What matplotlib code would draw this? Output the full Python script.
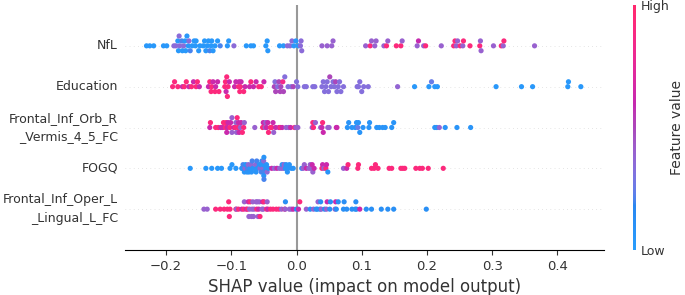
import numpy as np
import matplotlib
matplotlib.use("Agg")
import matplotlib.pyplot as plt
from matplotlib.colors import LinearSegmentedColormap

# ---------------- data ----------------
features = ["NfL", "Education", "Frontal_Inf_Orb_R\n_Vermis_4_5_FC", "FOGQ",
            "Frontal_Inf_Oper_L\n_Lingual_L_FC"]
x_ticks = [-0.2, -0.1, 0.0, 0.1, 0.2, 0.3, 0.4]

nfl_shap = [-0.230, -0.225, -0.219, -0.204, -0.199,
            -0.188, -0.185, -0.182, -0.181, -0.180, -0.179, -0.176, -0.175, -0.173, -0.171,
            -0.170, -0.168, -0.166, -0.165, -0.163, -0.160, -0.157, -0.155, -0.154, -0.150,
            -0.148, -0.143, -0.141, -0.139, -0.137, -0.135, -0.133, -0.131, -0.130, -0.128,
            -0.125, -0.121, -0.117,
            -0.106, -0.104, -0.096, -0.077, -0.070, -0.066, -0.047, -0.045, -0.044, -0.026,
            -0.020, -0.014, -0.010, -0.007, -0.004, -0.001, 0.003, 0.006, 0.007, 0.008,
            0.039, 0.047, 0.054, 0.056, 0.106, 0.113, 0.115, 0.120, 0.122, 0.134,
            0.138, 0.140, 0.153, 0.160, 0.162, 0.185, 0.187, 0.195, 0.198, 0.222,
            0.241, 0.243, 0.245, 0.247, 0.251, 0.255, 0.256, 0.266, 0.281, 0.282,
            0.283, 0.302, 0.314, 0.317, 0.318, 0.365]
nfl_feat = [0.05, 0.05, 0.05, 0.05, 0.05,
            0.35, 0.35, 0.05, 0.05, 0.35, 0.35, 0.2, 0.05, 0.35, 0.05,
            0.05, 0.05, 0.05, 0.35, 0.2, 0.05, 0.05, 0.05, 0.05, 0.05,
            0.05, 0.05, 0.05, 0.05, 0.05, 0.05, 0.2, 0.05, 0.05, 0.05,
            0.05, 0.05, 0.2,
            0.05, 0.05, 0.35, 0.05, 0.05, 0.05, 0.05, 0.05, 0.05, 0.05,
            0.05, 0.35, 0.35, 0.35, 0.05, 0.05, 0.05, 0.35, 0.35, 0.35,
            0.4, 0.4, 0.4, 0.4, 0.4, 0.92, 0.4, 0.4, 0.4, 0.4,
            0.92, 0.4, 0.92, 0.92, 0.4, 0.4, 0.6, 0.4, 0.92, 0.4,
            0.92, 0.92, 0.4, 0.4, 0.92, 0.4, 0.92, 0.92, 0.92, 0.4,
            0.4, 0.4, 0.92, 0.4, 0.92, 0.4]

edu_shap = [-0.190, -0.187, -0.182, -0.175, -0.172, -0.169, -0.165, -0.161, -0.158, -0.154, -0.152, -0.149,
            -0.135, -0.133, -0.131, -0.130, -0.128, -0.125, -0.124, -0.121, -0.119,
            -0.110, -0.109, -0.108, -0.107, -0.106, -0.105, -0.103,
            -0.095, -0.093, -0.089, -0.088, -0.087, -0.086, -0.085, -0.081, -0.079,
            -0.072, -0.070, -0.066, -0.062, -0.058, -0.054, -0.050,
            -0.034, -0.033, -0.032, -0.029, -0.027, -0.025, -0.024, -0.021, -0.020, -0.018,
            -0.013, -0.008, -0.005, 0.000, 0.002,
            0.012, 0.015, 0.025, 0.028, 0.039, 0.041, 0.043, 0.045, 0.047, 0.049,
            0.051, 0.053, 0.056, 0.058, 0.060, 0.062, 0.064, 0.066, 0.068, 0.072,
            0.093, 0.095, 0.097, 0.100, 0.103, 0.110,
            0.155, 0.181, 0.203, 0.207, 0.212, 0.216, 0.306, 0.345, 0.362, 0.416, 0.417, 0.436]
edu_feat = [0.92, 0.92, 0.92, 0.62, 0.92, 0.92, 0.62, 0.92, 0.62, 0.92, 0.92, 0.62,
            0.62, 0.92, 0.92, 0.92, 0.62, 0.92, 0.62, 0.62, 0.92,
            0.92, 0.92, 0.62, 0.92, 0.92, 0.92, 0.62,
            0.62, 0.62, 0.92, 0.62, 0.92, 0.92, 0.62, 0.92, 0.62,
            0.62, 0.92, 0.62, 0.62, 0.92, 0.92, 0.62,
            0.5, 0.33, 0.5, 0.33, 0.5, 0.5, 0.5, 0.85, 0.5, 0.33,
            0.33, 0.33, 0.5, 0.33, 0.33,
            0.33, 0.33, 0.33, 0.33, 0.33, 0.33, 0.33, 0.33, 0.33, 0.33,
            0.5, 0.33, 0.33, 0.33, 0.5, 0.33, 0.33, 0.33, 0.33, 0.33,
            0.33, 0.33, 0.33, 0.33, 0.33, 0.33,
            0.38, 0.05, 0.05, 0.25, 0.05, 0.05, 0.05, 0.05, 0.05, 0.05, 0.05, 0.05]

orb_shap = [-0.133, -0.132, -0.124, -0.120, -0.116, -0.113, -0.112,
            -0.109, -0.108, -0.107, -0.106, -0.105, -0.102, -0.101, -0.099, -0.099, -0.096,
            -0.094, -0.093, -0.092, -0.091, -0.090, -0.089, -0.088, -0.086, -0.085, -0.083,
            -0.081, -0.080,
            -0.064,
            -0.052, -0.051, -0.048, -0.047, -0.046, -0.044, -0.043, -0.040, -0.038, -0.036,
            -0.035, -0.032, -0.027, -0.025, -0.022, -0.016, -0.012, -0.009, -0.003, -0.001, 0.002,
            0.024, 0.025, 0.026, 0.029, 0.037, 0.039, 0.040, 0.041, 0.048, 0.050, 0.061, 0.062,
            0.078, 0.080, 0.085, 0.090, 0.092, 0.094, 0.095, 0.097, 0.102, 0.111, 0.112,
            0.123, 0.127, 0.132, 0.136, 0.146, 0.149,
            0.212, 0.215, 0.219, 0.228, 0.246, 0.267]
orb_feat = [0.62, 0.92, 0.92, 0.92, 0.62, 0.62, 0.92,
            0.92, 0.92, 0.62, 0.62, 0.62, 0.92, 0.62, 0.4, 0.4, 0.62,
            0.92, 0.4, 0.4, 0.92, 0.92, 0.62, 0.62, 0.4, 0.62, 0.92,
            0.92, 0.4,
            0.4,
            0.92, 0.62, 0.4, 0.4, 0.62, 0.62, 0.92, 0.92, 0.92, 0.62,
            0.4, 0.62, 0.62, 0.92, 0.62, 0.4, 0.4, 0.62, 0.92, 0.4, 0.4,
            0.4, 0.92, 0.92, 0.4, 0.4, 0.62, 0.92, 0.62, 0.4, 0.4, 0.62, 0.62,
            0.08, 0.08, 0.08, 0.08, 0.08, 0.25, 0.08, 0.08, 0.08, 0.08, 0.08,
            0.08, 0.08, 0.08, 0.08, 0.08, 0.08,
            0.08, 0.08, 0.38, 0.08, 0.08, 0.08]

fogq_shap = [-0.163, -0.139, -0.130, -0.121, -0.115, -0.102, -0.099, -0.093,
             -0.084, -0.083, -0.082, -0.080, -0.079, -0.078, -0.076, -0.075, -0.074, -0.073,
             -0.071, -0.070, -0.069, -0.068, -0.067, -0.064, -0.063, -0.062, -0.061, -0.060,
             -0.057, -0.056, -0.055, -0.054, -0.053, -0.0510, -0.0508, -0.0506, -0.0504,
             -0.0502, -0.0500, -0.0499, -0.047, -0.046, -0.045, -0.043,
             -0.038, -0.034, -0.030, -0.026, -0.023, -0.022, -0.020, -0.019, -0.017, -0.016,
             -0.014, -0.013, -0.011, -0.008, -0.005,
             0.008, 0.010, 0.012, 0.015, 0.019, 0.021, 0.022, 0.024, 0.025, 0.027,
             0.039, 0.040, 0.042, 0.045, 0.046, 0.048,
             0.072, 0.077, 0.079, 0.094, 0.095, 0.115, 0.119, 0.121, 0.125,
             0.142, 0.146, 0.160, 0.163, 0.166, 0.183, 0.189, 0.193, 0.202, 0.225]
fogq_feat = [0.05, 0.05, 0.05, 0.05, 0.05, 0.05, 0.05, 0.05,
             0.08, 0.08, 0.2, 0.08, 0.36, 0.08, 0.08, 0.2, 0.36, 0.08,
             0.08, 0.36, 0.08, 0.2, 0.08, 0.08, 0.36, 0.08, 0.2, 0.08,
             0.08, 0.36, 0.08, 0.2, 0.08, 0.36, 0.08, 0.2, 0.36,
             0.08, 0.08, 0.2, 0.08, 0.08, 0.36, 0.08,
             0.62, 0.38, 0.62, 0.38, 0.38, 0.08, 0.38, 0.38, 0.08, 0.08,
             0.08, 0.08, 0.08, 0.08, 0.08,
             0.08, 0.4, 0.4, 0.62, 0.4, 0.4, 0.4, 0.62, 0.4, 0.62,
             0.92, 0.62, 0.4, 0.92, 0.62, 0.08,
             0.4, 0.62, 0.92, 0.92, 0.92, 0.92, 0.92, 0.92, 0.92,
             0.92, 0.92, 0.92, 0.92, 0.92, 0.92, 0.92, 0.92, 0.92, 0.92]

oper_shap = [-0.142, -0.137,
             -0.124, -0.117, -0.111, -0.106, -0.104, -0.103, -0.102, -0.093, -0.092, -0.089,
             -0.084, -0.081, -0.080, -0.077, -0.075, -0.074, -0.073, -0.072, -0.071, -0.069,
             -0.068, -0.067, -0.066, -0.065, -0.062, -0.061, -0.060, -0.059, -0.058, -0.057,
             -0.056, -0.053, -0.052, -0.051, -0.050, -0.046, -0.045, -0.044, -0.040, -0.036,
             -0.031, -0.027, -0.023, -0.018, -0.0175, -0.017, -0.011, -0.008, -0.005, 0.000, 0.003, 0.005,
             0.015, 0.021, 0.026, 0.030, 0.032, 0.033, 0.036, 0.037, 0.038, 0.043,
             0.046, 0.047, 0.051, 0.052, 0.059, 0.060, 0.061, 0.064, 0.072, 0.073,
             0.077, 0.085, 0.090, 0.091, 0.092, 0.097,
             0.107, 0.115, 0.130, 0.140, 0.149, 0.199]
oper_feat = [0.4, 0.4,
             0.92, 0.92, 0.92, 0.92, 0.92, 0.92, 0.92, 0.92, 0.4, 0.92,
             0.62, 0.92, 0.4, 0.62, 0.92, 0.62, 0.4, 0.4, 0.92, 0.4,
             0.4, 0.4, 0.4, 0.4, 0.4, 0.92, 0.4, 0.4, 0.62, 0.4,
             0.92, 0.4, 0.62, 0.4, 0.92, 0.92, 0.4, 0.62, 0.92, 0.92,
             0.92, 0.92, 0.4, 0.92, 0.4, 0.12, 0.4, 0.4, 0.62, 0.12, 0.62, 0.92,
             0.4, 0.12, 0.4, 0.12, 0.12, 0.4, 0.12, 0.12, 0.4, 0.12,
             0.4, 0.62, 0.12, 0.12, 0.4, 0.62, 0.12, 0.12, 0.12, 0.12,
             0.12, 0.12, 0.12, 0.12, 0.12, 0.62,
             0.12, 0.12, 0.12, 0.12, 0.12, 0.12]

rows_shap = [nfl_shap, edu_shap, orb_shap, fogq_shap, oper_shap]
rows_feat = [nfl_feat, edu_feat, orb_feat, fogq_feat, oper_feat]
for s_, f_ in zip(rows_shap, rows_feat):
    assert len(s_) == len(f_), (len(s_), len(f_))


# ---------------- SHAP red_blue colormap (Lch interpolation) ----------------
def lch_to_rgb(l, c, h):
    a = c * np.cos(h)
    b = c * np.sin(h)
    fy = (l + 16.0) / 116.0
    fx = a / 500.0 + fy
    fz = max(fy - b / 200.0, 0.0)

    def finv(t):
        return t ** 3 if t > 0.2068966 else (t - 16.0 / 116.0) / 7.787

    xyz = np.array([finv(fx) * 0.95047, finv(fy) * 1.0, finv(fz) * 1.08883])
    m = np.array([[3.24048134, -1.53715152, -0.49853633],
                  [-0.96925495, 1.87599, 0.04155593],
                  [0.05564664, -0.20404134, 1.05731107]])
    rgb = m @ xyz
    rgb = np.where(rgb > 0.0031308,
                   1.055 * np.power(np.clip(rgb, 1e-12, None), 1 / 2.4) - 0.055,
                   12.92 * rgb)
    return np.clip(rgb, 0, 1)


blue_lch = [54.0, 70.0, 4.6588]
red_lch = [54.0, 90.0, 0.35470565 + 2 * np.pi]
l_mid = 40.0
nsteps = 100
l_vals = list(np.linspace(blue_lch[0], l_mid, nsteps // 2)) + list(np.linspace(l_mid, red_lch[0], nsteps // 2))
c_vals = np.linspace(blue_lch[1], red_lch[1], nsteps)
h_vals = np.linspace(blue_lch[2], red_lch[2], nsteps)
wash = 0.16  # the reference rendering looks slightly washed out
stops = [(p, (1 - wash) * lch_to_rgb(l, c, h) + wash) for p, l, c, h in
         zip(np.linspace(0, 1, nsteps), l_vals, c_vals, h_vals)]
red_blue = LinearSegmentedColormap.from_list("red_blue", stops)


def beeswarm_offsets(vals, row_height=0.4, nbins=100):
    vals = np.asarray(vals, dtype=float)
    quant = np.round(nbins * (vals - vals.min()) / (vals.max() - vals.min() + 1e-8))
    inds = np.argsort(quant, kind="stable")
    layer = 0
    last_bin = -1
    ys = np.zeros(len(vals))
    for ind in inds:
        if quant[ind] != last_bin:
            layer = 0
        ys[ind] = np.ceil(layer / 2) * ((layer % 2) * 2 - 1)
        layer += 1
        last_bin = quant[ind]
    ys *= 0.9 * (row_height / np.max(ys + 1))
    return ys


# ---------------- figure ----------------
W, H = 685, 295
fig = plt.figure(figsize=(W / 100, H / 100), dpi=100)
ax = fig.add_axes([125 / W, 45 / H, 479 / W, 245 / H])
cax = fig.add_axes([633 / W, 45 / H, 3 / W, 245 / H])

axis_color = "#333333"
n = len(features)
for i, (s_, f_) in enumerate(zip(rows_shap, rows_feat)):
    pos = n - 1 - i
    ax.axhline(y=pos, color="#cccccc", lw=0.5, dashes=(1, 5), zorder=-1)
    ys = beeswarm_offsets(s_)
    ax.scatter(s_, pos + ys, c=f_, cmap=red_blue, vmin=0, vmax=1, s=14,
               linewidth=0, zorder=3)
ax.axvline(x=0, color="#999999", zorder=-1)

ax.set_ylim(-1, n)
ax.set_xlim(-0.263, 0.4715)
ax.set_yticks(range(n))
ax.set_yticklabels(features[::-1], fontsize=9, linespacing=1.55, va="center")
ax.set_xticks(x_ticks)
ax.xaxis.set_ticks_position("bottom")
ax.yaxis.set_ticks_position("none")
for sp in ("right", "top", "left"):
    ax.spines[sp].set_visible(False)
ax.tick_params(axis="x", labelsize=9.5, color=axis_color, labelcolor=axis_color)
ax.tick_params(axis="y", length=0, pad=5, labelcolor=axis_color)
ax.set_xlabel("SHAP value (impact on model output)", fontsize=12, color=axis_color)

sm = matplotlib.cm.ScalarMappable(cmap=red_blue, norm=plt.Normalize(0, 1))
cb = fig.colorbar(sm, cax=cax, ticks=[0, 1])
cb.set_ticklabels(["Low", "High"])
cb.ax.tick_params(labelsize=9, length=0, labelcolor=axis_color)
cb.set_label("Feature value", size=10, labelpad=0, color=axis_color)
cb.outline.set_visible(False)

fig.savefig("out.png", dpi=100)
